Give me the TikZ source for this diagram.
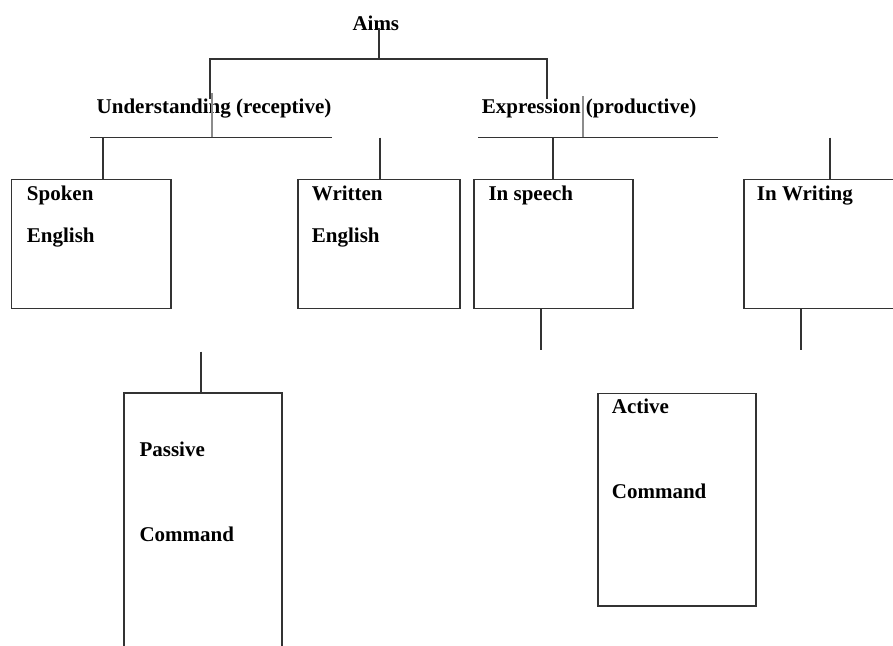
\documentclass[tikz,border=0pt]{standalone}
\usepackage{fontspec}
\setmainfont{Liberation Serif}
\begin{document}
\begin{tikzpicture}[x=1pt,y=-1pt,
  ln/.style={draw=black!80, line width=1.6pt},
  gln/.style={draw=black!45, line width=2.2pt},
  lbl/.style={anchor=base west, inner sep=0pt, font=\fontsize{21}{25}\selectfont\bfseries},
  box/.style={ln, inner sep=0pt, anchor=north west}]
\useasboundingbox (0,0) rectangle (893,645);
% titles
\node[lbl] (aims) at (352.3,30.5) {Aims};
\node[lbl] (und) at (96.5,113.5) {Understanding (receptive)};
\node[lbl] (exp) at (481.7,113.5) {Expression (productive)};
% tree top
\coordinate (t0) at (379,28);
\coordinate (tl) at (210,58.7);
\coordinate (tr) at (546.7,58.7);
\draw[ln] (t0) -- (379,58.7);
\draw[ln] (tl |- und.north) -- (tl) -- (tr) -- (tr |- und.north);
\draw[gln] (211.7,93) -- (211.7,137.5);
\draw[gln] (582.7,96) -- (582.7,137.5);
% horizontal bars
\coordinate (hl1) at (90,137.5);
\coordinate (hl2) at (332,137.5);
\coordinate (hr1) at (478,137.5);
\coordinate (hr2) at (718,137.5);
\draw[ln] (hl1) -- (hl2);
\draw[ln] (hr1) -- (hr2);
% boxes
\path[box] (11.3,179.3) rectangle (170.7,308.3) node[pos=0] (spoken) {};
\path[box] (297.7,179.3) rectangle (460,308.3) node[pos=0] (written) {};
\path[box] (474,179.3) rectangle (632.7,308.3) node[pos=0] (speech) {};
\draw[ln] (900,179.3) -- (744,179.3) -- (744,308.3) -- (900,308.3);
\draw[ln] (124,650) -- (124,392.7) -- (281.7,392.7) -- (281.7,650);
\path[box] (597.7,393.3) rectangle (756,606) node[pos=0] (active) {};
% texts
\node[lbl] at (26.7,200) {Spoken};
\node[lbl] at (26.7,242.5) {English};
\node[lbl] at (311.7,200) {Written};
\node[lbl] at (311.7,242.5) {English};
\node[lbl] at (488.3,200) {In speech};
\node[lbl] at (756.7,200) {In Writing};
\node[lbl] at (139.3,456.5) {Passive};
\node[lbl] at (139.3,541) {Command};
\node[lbl] at (611.7,413.3) {Active};
\node[lbl] at (611.7,498.3) {Command};
% connectors
\draw[ln] (102.7,137.5) -- (102.7,179.3);
\draw[ln] (380,137.5) -- (380,179.3);
\draw[ln] (552.7,137.5) -- (552.7,179.3);
\draw[ln] (830,137.5) -- (830,179.3);
\draw[ln] (540.7,308.3) -- (540.7,350);
\draw[ln] (800.7,308.3) -- (800.7,350);
\draw[ln] (201,351.7) -- (201,392.7);
\end{tikzpicture}
\end{document}
